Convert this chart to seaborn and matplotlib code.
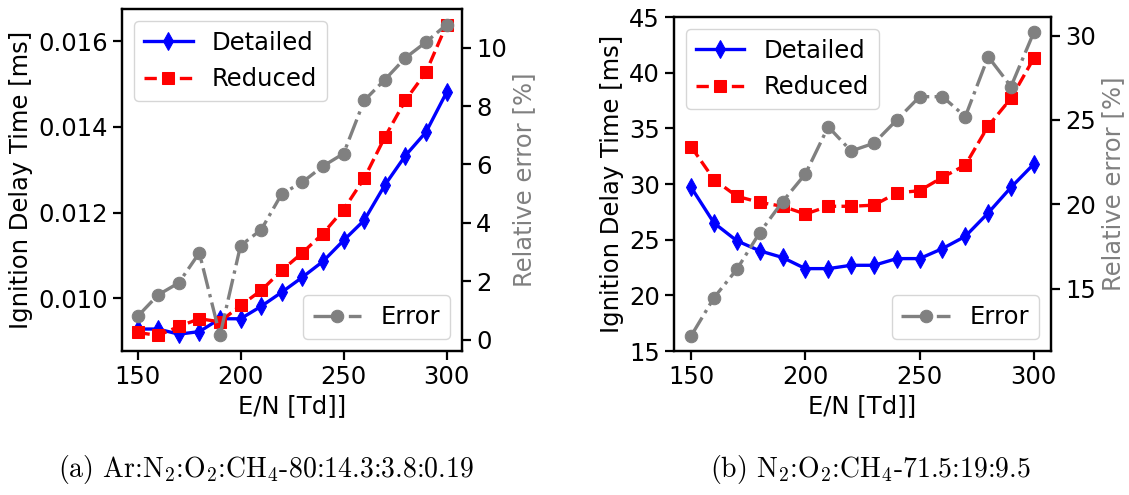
import matplotlib
matplotlib.use('Agg')
import matplotlib.pyplot as plt
import seaborn as sns

# reduced electric field E/N [Td]
en = [150, 160, 170, 180, 190, 200, 210, 220, 230, 240, 250, 260, 270, 280, 290, 300]

# (a) Ar:N2:O2:CH4 mixture
detailed_a = [0.00928, 0.00928, 0.00916, 0.00922, 0.00952, 0.00952, 0.00981, 0.01014,
              0.01049, 0.01086, 0.01135, 0.01182, 0.01264, 0.01333, 0.01388, 0.01481]
reduced_a = [0.00920, 0.00913, 0.00934, 0.00952, 0.00945, 0.00983, 0.01018, 0.01065,
             0.01106, 0.01151, 0.01207, 0.01280, 0.01376, 0.01462, 0.01528, 0.01639]
error_a = [0.79, 1.53, 1.94, 2.97, 0.14, 3.22, 3.76, 4.99,
           5.39, 5.94, 6.37, 8.19, 8.90, 9.65, 10.19, 10.79]

# (b) N2:O2:CH4 mixture
detailed_b = [29.7, 26.5, 24.9, 24.0, 23.4, 22.4, 22.4, 22.7,
              22.7, 23.3, 23.3, 24.2, 25.3, 27.4, 29.7, 31.8]
reduced_b = [33.35, 30.4, 28.9, 28.35, 28.0, 27.3, 28.0, 28.0,
             28.1, 29.2, 29.4, 30.6, 31.7, 35.2, 37.7, 41.3]
error_b = [12.21, 14.47, 16.15, 18.32, 20.16, 21.8, 24.6, 23.16,
           23.62, 25.0, 26.38, 26.38, 25.2, 28.75, 26.98, 30.2]

xticks = [150, 200, 250, 300]
yticks_a = [0.010, 0.012, 0.014, 0.016]
errticks_a = [0, 2, 4, 6, 8, 10]
yticks_b = [15, 20, 25, 30, 35, 40, 45]
errticks_b = [15, 20, 25, 30]

caption_a = '(a) Ar:N$_2$:O$_2$:CH$_4$-80:14.3:3.8:0.19'
caption_b = '(b) N$_2$:O$_2$:CH$_4$-71.5:19:9.5'

plt.rcParams['mathtext.fontset'] = 'cm'
plt.rcParams['font.size'] = 17.5
plt.rcParams['axes.linewidth'] = 1.6

fig = plt.figure(figsize=(11.29, 4.95), dpi=100)


def panel(rect, det, red, err, yticks, errticks, ylim=None, yfmt='%.3f'):
    ax = fig.add_axes(rect)
    sns.lineplot(x=en, y=det, ax=ax, color='b', marker='d', markersize=9, mec='b',
                 lw=2.4, label='Detailed')
    sns.lineplot(x=en, y=red, ax=ax, color='r', marker='s', markersize=8.5, mec='r',
                 lw=2.4, ls='--', label='Reduced')
    ax.set_xticks(xticks)
    ax.set_yticks(yticks)
    ax.set_yticklabels([yfmt % v for v in yticks])
    if ylim:
        ax.set_ylim(ylim)
    ax.set_xlabel('E/N [Td]]')
    ax.set_ylabel('Ignition Delay Time [ms]')
    ax.legend(loc='upper left', handlelength=2.0)

    ax2 = ax.twinx()
    sns.lineplot(x=en, y=err, ax=ax2, color='gray', marker='o', markersize=9, mec='gray',
                 lw=2.4, ls='-.', label='Error')
    ax2.set_yticks(errticks)
    ax2.set_ylabel('Relative error [%]', color='gray')
    ax2.legend(loc='lower right', handlelength=2.0)
    for a in (ax, ax2):
        a.tick_params(length=6.5, width=1.6)
    return ax


panel([0.1081, 0.2909, 0.3012, 0.6909], detailed_a, reduced_a, error_a,
      yticks_a, errticks_a)
panel([0.5970, 0.2909, 0.3339, 0.6747], detailed_b, reduced_b, error_b,
      yticks_b, errticks_b, ylim=(15, 45), yfmt='%d')

fig.text(0.236, 0.052, caption_a, family='cmr10', fontsize=20, ha='center', va='center')
fig.text(0.771, 0.052, caption_b, family='cmr10', fontsize=20, ha='center', va='center')

fig.savefig('out.png', dpi=100)
